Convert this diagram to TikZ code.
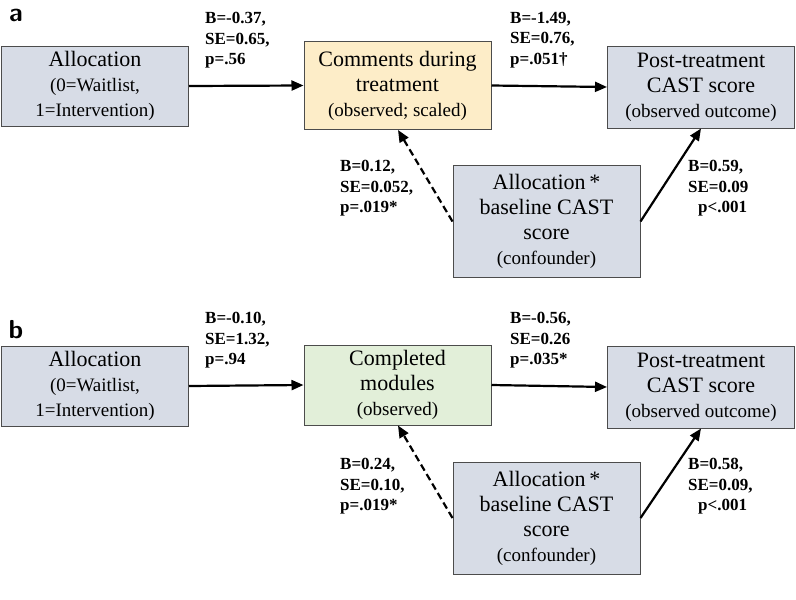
\documentclass[tikz,border=0pt]{standalone}
\usepackage{fontspec}
\setmainfont{Liberation Serif}
\usetikzlibrary{arrows.meta}
\begin{document}
\begin{tikzpicture}[x=1pt,y=-1pt,
 box/.style={draw=black!70,line width=1pt,fill=boxblue,minimum width=187pt,align=center,font=\fontsize{22}{25}\selectfont,inner sep=2pt},
 lab/.style={align=left,font=\bfseries\fontsize{17}{20.5}\selectfont,inner sep=0pt},
 arr/.style={line width=2.2pt,-{Triangle[length=12pt,width=10pt]}},
 dsh/.style={dash pattern=on 7pt off 4pt},
 pl/.style={font=\bfseries\sffamily\fontsize{26}{26}\selectfont,inner sep=0pt}]
\definecolor{boxblue}{HTML}{D7DCE6}
\definecolor{boxyel}{HTML}{FDEDC8}
\definecolor{boxgrn}{HTML}{E2EFD9}
\def\sml{\fontsize{19}{22}\selectfont}
\useasboundingbox (0,0) rectangle (796,600);
% panel a
\node[pl] (la) at (16,15) {a};
\node[box,minimum height=80pt] (a1) at (95,86) {Allocation\\{\sml(0=Waitlist,}\\{\sml 1=Intervention)}};
\node[box,fill=boxyel,minimum height=88pt] (a2) at (397.5,85.5) {Comments during\\treatment\\{\sml(observed; scaled)}};
\node[box,minimum height=82pt] (a3) at (701,87) {Post-treatment\\CAST score\\{\sml(observed outcome)}};
\node[box,minimum height=112pt] (a4) at (546.5,221.5) {Allocation\,*\\baseline CAST\\score\\{\sml(confounder)}};
\draw[arr] (a1.east) -- (a2.west);
\draw[arr] (a2.east) -- (a3.west);
\draw[arr,dsh] (a4.west) -- (a2.south -| 398,0);
\draw[arr] (a4.east) -- (a3.south -| 701,0);
\node[lab,anchor=north west] (t1) at (205,12) {B=-0.37,\\SE=0.65,\\p=.56};
\node[lab,anchor=north west] (t2) at (510,12) {B=-1.49,\\SE=0.76,\\p=.051\textdagger};
\node[lab,anchor=north west] (t3) at (340,160) {B=0.12,\\SE=0.052,\\p=.019*};
\node[lab,anchor=north west] (t4) at (688,160) {B=0.59,\\SE=0.09\\\hspace*{10pt}p<.001};
% panel b
\node[pl] (lb) at (16,330) {b};
\node[box,minimum height=80pt] (b1) at (95,386) {Allocation\\{\sml(0=Waitlist,}\\{\sml 1=Intervention)}};
\node[box,fill=boxgrn,minimum height=80pt] (b2) at (397.5,385) {Completed\\modules\\{\sml(observed)}};
\node[box,minimum height=82pt] (b3) at (701,387) {Post-treatment\\CAST score\\{\sml(observed outcome)}};
\node[box,minimum height=112pt] (b4) at (546.5,518) {Allocation\,*\\baseline CAST\\score\\{\sml(confounder)}};
\draw[arr] (b1.east) -- (b2.west);
\draw[arr] (b2.east) -- (b3.west);
\draw[arr,dsh] (b4.west) -- (b2.south -| 398,0);
\draw[arr] (b4.east) -- (b3.south -| 701,0);
\node[lab,anchor=north west] (u1) at (205,312) {B=-0.10,\\SE=1.32,\\p=.94};
\node[lab,anchor=north west] (u2) at (510,312) {B=-0.56,\\SE=0.26\\p=.035*};
\node[lab,anchor=north west] (u3) at (340,458) {B=0.24,\\SE=0.10,\\p=.019*};
\node[lab,anchor=north west] (u4) at (688,458) {B=0.58,\\SE=0.09,\\\hspace*{10pt}p<.001};
\end{tikzpicture}
\end{document}
